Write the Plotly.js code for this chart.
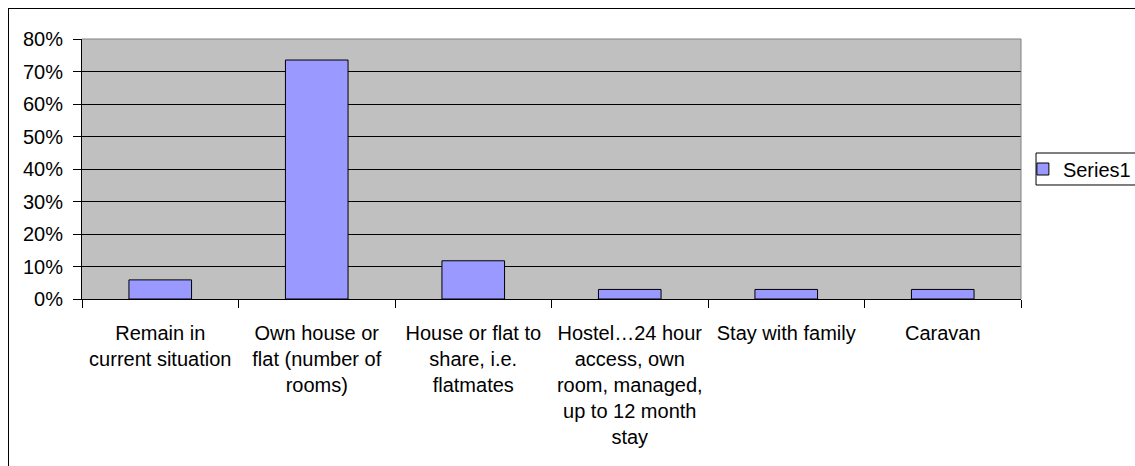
<!DOCTYPE html>
<html>
<head>
<meta charset="utf-8">
<script src="https://cdn.plot.ly/plotly-3.0.1.min.js"></script>
<style>
  html, body { margin: 0; padding: 0; background: #fff; overflow: hidden; }
  .frame { position: absolute; left: 8px; top: 8px; width: 1300px; height: 700px; border: 1px solid #000; }
  #myDiv { position: absolute; left: 0; top: 0; width: 1135px; height: 466px; }
</style>
</head>
<body>
<div class="frame"></div>
<div id="myDiv"></div>
<script>
// categories (wrapped the way the chart wraps them)
const categories = [
    "Remain in<br>current situation",
    "Own house or<br>flat (number of<br>rooms)",
    "House or flat to<br>share, i.e.<br>flatmates",
    "Hostel…24 hour<br>access, own<br>room, managed,<br>up to 12 month<br>stay",
    "Stay with family",
    "Caravan"
];
const series1 = [0.0588, 0.7353, 0.1176, 0.0294, 0.0294, 0.0294];
const yTicks = [0, 0.1, 0.2, 0.3, 0.4, 0.5, 0.6, 0.7, 0.8];
const yTickText = ["0%", "10%", "20%", "30%", "40%", "50%", "60%", "70%", "80%"];

const font = { family: "Liberation Sans, Arial, sans-serif", size: 20, color: "#000" };

var trace1 = {
    x: categories,
    y: series1,
    type: 'bar',
    name: 'Series1',
    marker: { color: '#9999ff', line: { color: '#000', width: 1 } }
};

Plotly.newPlot('myDiv', [trace1], {
    width: 1135,
    height: 466,
    margin: { l: 82, r: 114, t: 39, b: 167, autoexpand: false },
    paper_bgcolor: 'rgba(0,0,0,0)',
    plot_bgcolor: '#c0c0c0',
    font: font,
    bargap: 0.6,
    showlegend: true,
    // legend text sits where Excel puts it; its frame is drawn as a shape below
    legend: {
        x: 1.002, xanchor: 'left', y: 0.5, yanchor: 'middle',
        bgcolor: 'rgba(0,0,0,0)', borderwidth: 0,
        font: font
    },
    xaxis: {
        type: 'category',
        showline: true, linecolor: '#000', linewidth: 1,
        ticks: 'outside', ticklen: 8, tickcolor: '#000',
        tickson: 'boundaries',
        showgrid: false,
        ticklabelstandoff: 16,
        fixedrange: true
    },
    yaxis: {
        range: [0, 0.8],
        tickvals: yTicks,
        ticktext: yTickText,
        showline: true, linecolor: '#000', linewidth: 1,
        ticks: 'outside', ticklen: 8, tickcolor: '#000',
        showgrid: true, gridcolor: '#000', gridwidth: 1,
        zeroline: false,
        ticklabelstandoff: 6,
        fixedrange: true
    },
    shapes: [
        { type: 'line', xref: 'paper', yref: 'paper', x0: 0, x1: 1, y0: 1, y1: 1,
          line: { color: '#808080', width: 1 }, layer: 'above' },
        { type: 'line', xref: 'paper', yref: 'paper', x0: 1, x1: 1, y0: 0, y1: 1,
          line: { color: '#808080', width: 1 }, layer: 'above' },
        // legend frame
        { type: 'rect', xref: 'paper', yref: 'paper', x0: 1.016, x1: 1.2, y0: 0.4385, y1: 0.5615,
          line: { color: '#000', width: 1 }, fillcolor: '#fff', layer: 'above' }
    ]
}, { displayModeBar: false, staticPlot: true });
</script>
</body>
</html>
